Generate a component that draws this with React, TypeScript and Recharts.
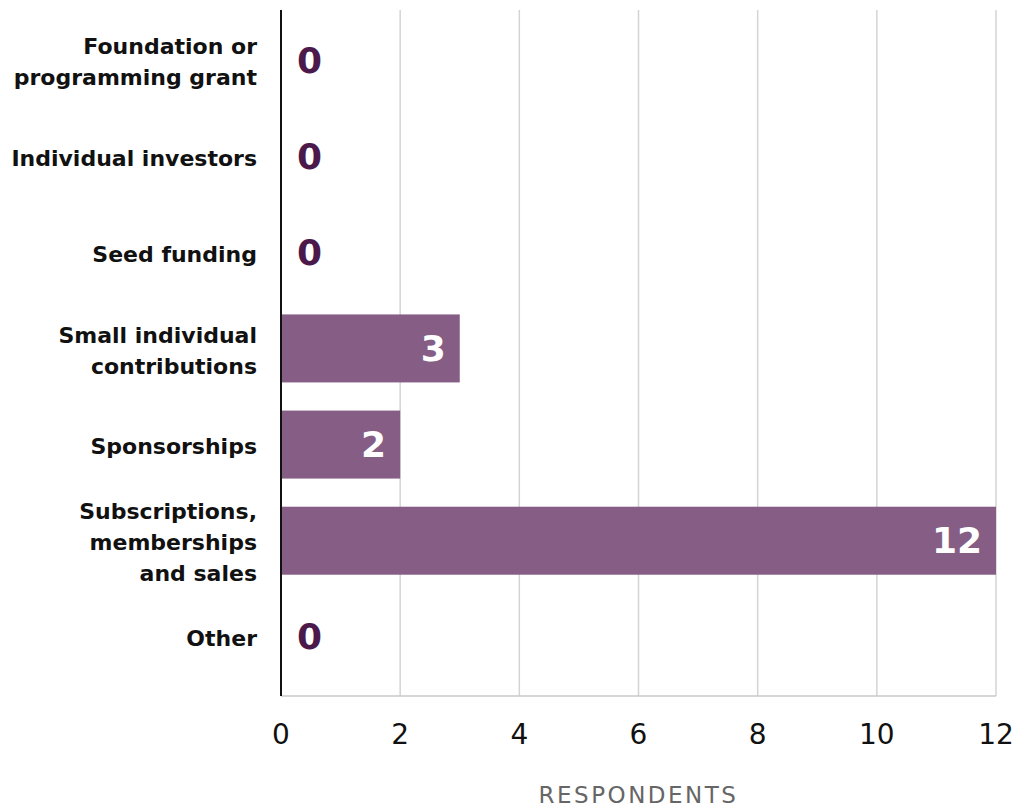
import React from 'react';
import { BarChart, Bar, XAxis, YAxis, CartesianGrid } from 'recharts';

const categories = [
  'Foundation or\nprogramming grant',
  'Individual investors',
  'Seed funding',
  'Small individual\ncontributions',
  'Sponsorships',
  'Subscriptions,\nmemberships\nand sales',
  'Other',
];
const respondents = [0, 0, 0, 3, 2, 12, 0];
const xTicks = [0, 2, 4, 6, 8, 10, 12];

const data = categories.map((c, i) => ({ category: c, value: respondents[i] }));

const FONT = '"DejaVu Sans", sans-serif';
const BAR_COLOR = '#855d85';
const ZERO_COLOR = '#4b1a4b';

const CategoryTick = (props: any) => {
  const { x, y, payload } = props;
  const lines: string[] = String(payload.value).split('\n');
  const lh = 31;
  const startDy = -((lines.length - 1) * lh) / 2;
  return (
    <text x={x} y={y + 2} textAnchor="end" fontFamily={FONT} fontWeight={700} fontSize={22} fill="#111">
      {lines.map((l, i) => (
        <tspan key={i} x={x} dy={i === 0 ? startDy : lh} dominantBaseline="central">
          {l}
        </tspan>
      ))}
    </text>
  );
};

const BarWithLabel = (props: any) => {
  const { x, y, width, height, payload } = props;
  const value = payload ? payload.value : props.value;
  const cy = y + height / 2;
  return (
    <g>
      {width > 0 && <rect x={x} y={y} width={width} height={height} fill={BAR_COLOR} />}
      {value === 0 || !width ? (
        <text x={x + 16} y={cy} dominantBaseline="central" textAnchor="start" fontFamily={FONT} fontWeight={700} fontSize={36} fill={ZERO_COLOR}>
          {String(value)}
        </text>
      ) : (
        <text x={x + width - 14} y={cy} dominantBaseline="central" textAnchor="end" fontFamily={FONT} fontWeight={700} fontSize={36} fill="#fff">
          {String(value)}
        </text>
      )}
    </g>
  );
};

export default function App() {
  return (
    <div style={{ position: 'absolute', left: 0, top: 0, background: '#fff' }}>
      <BarChart
        width={1015}
        height={807}
        data={data}
        layout="vertical"
        margin={{ top: 10, right: 19, bottom: 0, left: 0 }}
      >
        <CartesianGrid horizontal={false} stroke="#d4d4d4" strokeWidth={1.5} />
        <XAxis
          type="number"
          domain={[0, 12]}
          ticks={xTicks}
          interval={0}
          axisLine={{ stroke: '#c8c8c8', strokeWidth: 1.5 }}
          tickLine={false}
          tickMargin={22}
          tick={{ fontFamily: FONT, fontSize: 28, fill: '#111' }}
          height={111}
          label={{ value: 'RESPONDENTS', position: 'insideBottom', offset: 4, fontFamily: FONT, fontSize: 23, fill: '#666', letterSpacing: 2.5 }}
        />
        <YAxis
          type="category"
          dataKey="category"
          width={281}
          axisLine={{ stroke: '#111', strokeWidth: 2 }}
          tickLine={false}
          tickSize={0}
          tickMargin={24}
          interval={0}
          padding={{ top: 2, bottom: 11 }}
          tick={<CategoryTick />}
        />
        <Bar dataKey="value" fill={BAR_COLOR} barSize={68} isAnimationActive={false} shape={<BarWithLabel />} />
      </BarChart>
    </div>
  );
}
